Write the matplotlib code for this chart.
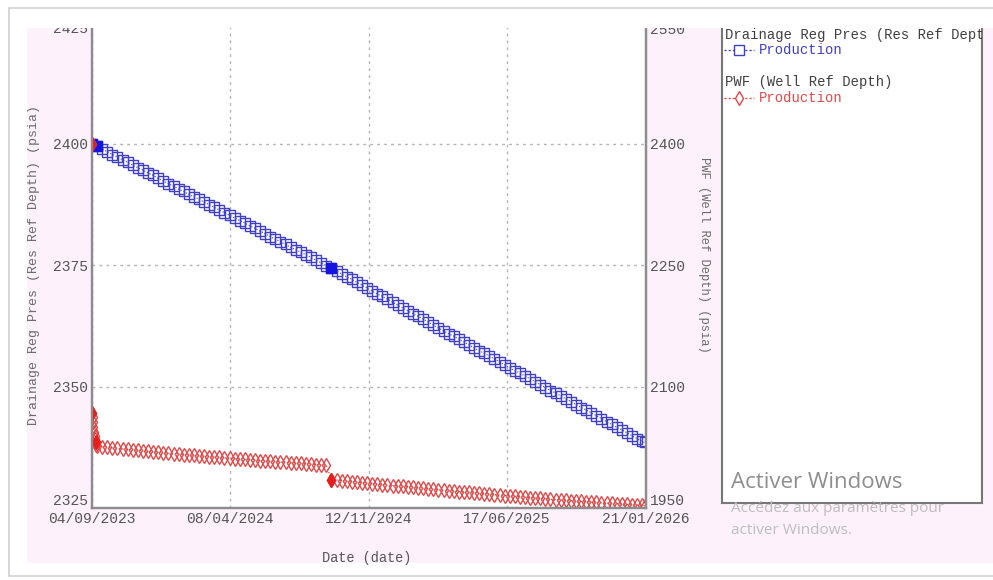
import numpy as np
import pandas as pd
import matplotlib
matplotlib.use("Agg")
import matplotlib.pyplot as plt
from matplotlib.patches import Rectangle

plt.rcParams['font.family'] = ['Liberation Mono', 'DejaVu Sans Mono']

# Report schedule (days after 04/09/2023)
start_date = pd.Timestamp('2023-09-04')
end_date = pd.Timestamp('2026-01-21')
report_days = np.append(np.arange(0, 865, 8), 868)
early_days = [0, 0.5, 1, 1.5, 2, 3, 4, 5, 6, 7]

# Drainage region pressure (psia) at each report step
drainage_pres = [
    2400.0, 2399.5, 2398.9, 2398.4, 2397.8, 2397.3, 2396.7, 2396.2, 2395.6, 2395.1,
    2394.6, 2394.0, 2393.5, 2392.9, 2392.4, 2391.8, 2391.3, 2390.7, 2390.2, 2389.6,
    2389.1, 2388.6, 2388.0, 2387.5, 2386.9, 2386.4, 2385.8, 2385.3, 2384.7, 2384.2,
    2383.7, 2383.1, 2382.6, 2382.0, 2381.5, 2380.9, 2380.4, 2379.8, 2379.3, 2378.7,
    2378.2, 2377.7, 2377.1, 2376.6, 2376.0, 2375.5, 2374.9, 2374.4, 2373.8, 2373.2,
    2372.6, 2372.1, 2371.5, 2370.9, 2370.3, 2369.7, 2369.1, 2368.6, 2368.0, 2367.4,
    2366.8, 2366.2, 2365.6, 2365.0, 2364.5, 2363.9, 2363.3, 2362.7, 2362.1, 2361.5,
    2360.9, 2360.4, 2359.8, 2359.2, 2358.6, 2358.0, 2357.4, 2356.9, 2356.3, 2355.7,
    2355.1, 2354.5, 2353.9, 2353.3, 2352.8, 2352.2, 2351.6, 2351.0, 2350.4, 2349.8,
    2349.2, 2348.7, 2348.1, 2347.5, 2346.9, 2346.3, 2345.7, 2345.2, 2344.6, 2344.0,
    2343.4, 2342.8, 2342.2, 2341.6, 2341.1, 2340.5, 2339.9, 2339.3, 2338.7, 2338.5,
]
drainage_events = [0, 1, 47]

# Flowing bottomhole pressure (psia): start-up transient, then report steps
pwf_early = [2400, 2068, 2062, 2056, 2050, 2044, 2039, 2035, 2031, 2028]
pwf_steps = [
    2026.5, 2025.7, 2025.0, 2024.3, 2023.6, 2023.0, 2022.4, 2021.8, 2021.2, 2020.6,
    2020.0, 2019.4, 2018.8, 2018.3, 2017.7, 2017.2, 2016.6, 2016.1, 2015.6, 2015.0,
    2014.5, 2014.0, 2013.5, 2013.0, 2012.5, 2012.0, 2011.5, 2011.0, 2010.5, 2010.0,
    2009.6, 2009.1, 2008.6, 2008.2, 2007.7, 2007.3, 2006.8, 2006.4, 2005.9, 2005.5,
    2005.0, 2004.6, 2004.2, 2003.7, 2003.3, 2002.9, 1985.0, 1984.4, 1983.8, 1983.2,
    1982.6, 1982.0, 1981.4, 1980.8, 1980.2, 1979.6, 1979.0, 1978.4, 1977.8, 1977.2,
    1976.6, 1976.0, 1975.4, 1974.8, 1974.2, 1973.7, 1973.1, 1972.5, 1971.9, 1971.4,
    1970.8, 1970.3, 1969.7, 1969.2, 1968.6, 1968.1, 1967.5, 1967.0, 1966.5, 1965.9,
    1965.4, 1964.9, 1964.4, 1963.9, 1963.4, 1962.9, 1962.4, 1961.9, 1961.4, 1960.9,
    1960.5, 1960.0, 1959.5, 1959.1, 1958.6, 1958.2, 1957.7, 1957.3, 1956.9, 1956.4,
    1956.0, 1955.6, 1955.2, 1954.8, 1954.4, 1954.0, 1953.6, 1953.2, 1953.0,
]
pwf_events = [0, 1, 8, 56]

x_ticks = ['2023-09-04', '2024-04-08', '2024-11-12', '2025-06-17', '2026-01-21']
left_ticks = [2325, 2350, 2375, 2400, 2425]
right_ticks = [1950, 2100, 2250, 2400, 2550]

BLUE = '#4040c4'
BLUE_FILL = '#1414e0'
RED = '#e04a4a'
RED_FILL = '#e81e1e'
PINK = '#fdf1fc'
TICK_COLOR = '#555555'
SPINE_COLOR = '#8c8c8c'
SQ_SIZE = 7
DIA_SIZE = 7.6

W, H = 993, 580


def fx(x):
    return x / W


def fy(y):
    return 1 - y / H


def to_dates(days):
    return start_date + pd.to_timedelta(np.asarray(days, dtype=float), unit='D')


fig = plt.figure(figsize=(W / 100, H / 100), dpi=100)

# window frame and panel background
fig.patches.append(Rectangle((fx(9), fy(576)), (1010 - 9) / W, (576 - 8) / H,
                             transform=fig.transFigure, facecolor='white',
                             edgecolor='#cfcfcf', lw=1.2, zorder=-10))
fig.patches.append(Rectangle((fx(27), fy(563)), (993 - 27) / W, (563 - 28) / H,
                             transform=fig.transFigure, facecolor=PINK,
                             edgecolor='none', zorder=-9))

ax = fig.add_axes([fx(92), fy(508), 554 / W, (508 - 22.5) / H])
ax.set_facecolor('white')
ax2 = ax.twinx()

# drainage region pressure on the left axis
drain_dates = to_dates(report_days)
ax.plot(drain_dates, drainage_pres, linestyle=':', linewidth=0.8, color=BLUE,
        marker='s', markersize=SQ_SIZE, markerfacecolor='none', markeredgecolor=BLUE,
        markeredgewidth=1.0)
ax.plot(drain_dates, drainage_pres, linestyle='none', marker='s', markersize=SQ_SIZE,
        markerfacecolor=BLUE_FILL, markeredgecolor=BLUE_FILL,
        markevery=drainage_events)

# PWF on the right axis
pwf_dates = to_dates(np.concatenate([early_days, report_days[1:]]))
pwf_values = pwf_early + pwf_steps
ax2.plot(pwf_dates, pwf_values, linestyle=':', linewidth=0.9, color=RED,
         marker='d', markersize=DIA_SIZE, markerfacecolor='none', markeredgecolor=RED,
         markeredgewidth=1.0)
ax2.plot(pwf_dates, pwf_values, linestyle='none', marker='d', markersize=DIA_SIZE,
         markerfacecolor=RED_FILL, markeredgecolor=RED_FILL, markevery=pwf_events)

ax.set_xlim(start_date, end_date)
ax.set_ylim(2325, 2425)
ax2.set_ylim(1950, 2550)

ax.set_xticks([pd.Timestamp(d) for d in x_ticks])
ax.set_xticklabels([pd.Timestamp(d).strftime('%d/%m/%Y') for d in x_ticks])
ax.set_yticks(left_ticks)
ax2.set_yticks(right_ticks)

ax.grid(True, color='#b4b4b4', linestyle=(0, (2, 3)), linewidth=1)
ax.tick_params(axis='x', length=0, pad=3, labelsize=10.5, labelcolor=TICK_COLOR)
ax.tick_params(axis='y', length=0, pad=3, labelsize=10.5, labelcolor=TICK_COLOR)
ax2.tick_params(axis='y', length=0, pad=3, labelsize=10.5, labelcolor=TICK_COLOR)

# end labels are pulled inside the axis range
for a in (ax, ax2):
    labels = a.get_yticklabels()
    labels[0].set_verticalalignment('bottom')
    labels[-1].set_verticalalignment('top')
    for s in a.spines.values():
        s.set_color(SPINE_COLOR)
        s.set_linewidth(1.6)

ax.set_ylabel('Drainage Reg Pres (Res Ref Depth) (psia)', fontsize=9.5, color='#6a6a6a')
ax.yaxis.set_label_coords((40 - 92) / 554, 0.5)
ax2.set_ylabel('PWF (Well Ref Depth) (psia)', fontsize=8.7, color='#6a6a6a',
               rotation=270)
ax2.yaxis.set_label_coords((710 - 92) / 554, (508 - 255) / (508 - 22.5))
ax.set_xlabel('Date (date)', fontsize=9.8, color=TICK_COLOR)
ax.xaxis.set_label_coords((367 - 92) / 554, (508 - 551) / (508 - 22.5))

# legend panel
lax = fig.add_axes([fx(722), fy(503), 260 / W, (503 - 22) / H])
lax.set_xlim(722, 982)
lax.set_ylim(503, 22)
lax.set_xticks([])
lax.set_yticks([])
for s in lax.spines.values():
    s.set_color('#777777')
    s.set_linewidth(1.5)

lax.text(725, 35, 'Drainage Reg Pres (Res Ref Depth)', va='center', fontsize=10,
         color='#404040', clip_on=True)
lax.plot([724, 754], [50, 50], linestyle=(0, (1.5, 1.5)), linewidth=1.0, color=BLUE)
lax.plot([739], [50], marker='s', markersize=SQ_SIZE, markerfacecolor='white',
         markeredgecolor=BLUE, markeredgewidth=1.0)
lax.text(759, 50, 'Production', va='center', fontsize=10, color=BLUE)

lax.text(725, 82, 'PWF (Well Ref Depth)', va='center', fontsize=10, color='#404040')
lax.plot([724, 754], [98, 98], linestyle=(0, (1.5, 1.5)), linewidth=1.0, color=RED)
lax.plot([739], [98], marker='d', markersize=DIA_SIZE, markerfacecolor='white',
         markeredgecolor=RED, markeredgewidth=1.0)
lax.text(759, 98, 'Production', va='center', fontsize=10, color=RED)

# the top of the plot panel is cut off by the window edge
fig.patches.append(Rectangle((fx(10), fy(28)), (1000 - 10) / W, (28 - 9) / H,
                             transform=fig.transFigure, facecolor='white',
                             edgecolor='none', zorder=20))

# Windows activation notice
fig.text(fx(731), fy(482), 'Activer Windows', fontsize=16, color='#8e8e8e',
         family=['Open Sans', 'DejaVu Sans'], va='center', zorder=25)
fig.text(fx(731), fy(509), 'Accédez aux paramètres pour', fontsize=11,
         color='#bdbdbd', family=['Open Sans', 'DejaVu Sans'], va='center', zorder=25)
fig.text(fx(731), fy(531), 'activer Windows.', fontsize=11, color='#bdbdbd',
         family=['Open Sans', 'DejaVu Sans'], va='center', zorder=25)

fig.savefig('out.png', dpi=100)
